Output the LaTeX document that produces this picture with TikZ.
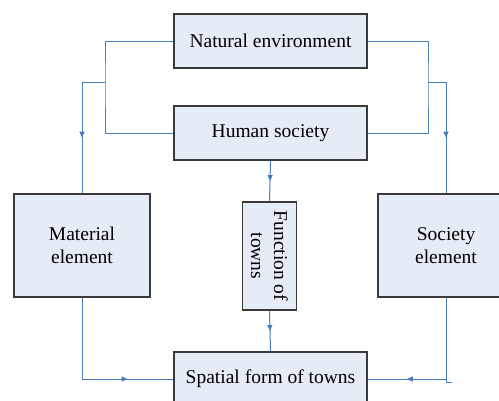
\documentclass[tikz,border=0pt]{standalone}
\usepackage{fontspec}
\setmainfont{Liberation Serif}
\usetikzlibrary{arrows.meta,decorations.markings}
\definecolor{lineblue}{HTML}{4A7EBB}
\definecolor{boxfill}{HTML}{E6ECF6}
\definecolor{boxdraw}{HTML}{3A3A3A}
\begin{document}
\begin{tikzpicture}[x=1pt,y=-1pt,
  box/.style={draw=boxdraw,line width=1.2pt,fill=boxfill,inner sep=0pt,align=center,
    font=\fontsize{19.5}{23}\selectfont},
  widebox/.style={box,minimum width=193pt,minimum height=54pt},
  sidebox/.style={box,minimum width=136pt,minimum height=103pt},
  conn/.style={color=lineblue,line width=1pt},
  midarrow/.style={conn,postaction={decorate},
    decoration={markings,mark=at position 0.5 with {\arrow{Triangle[length=6pt,width=5pt]}}}}]
\useasboundingbox (0,0) rectangle (499,400);
\clip (0,0) rectangle (499,400);

\node[widebox] (nat) at (270.5,41) {Natural environment};
\node[widebox] (hum) at (270.5,133) {Human society};
\node[sidebox] (mat) at (82,245.5) {Material\\element};
\node[sidebox] (soc) at (446,245.5) {Society\\element};
\node[box,minimum width=108pt,minimum height=54pt,rotate=-90] (fun) at (269.5,256) {Function of\\towns};
\node[widebox] (spa) at (270.5,379) {Spatial form of towns};

% left bracket
\coordinate (lb) at (105,82);
\coordinate (lc) at (82,82);
\draw[conn] (nat.west) -| (lb) |- (hum.west);
\draw[conn] (lb) -- (lc);
\draw[midarrow] (lc) -- (mat.north);

% right bracket
\coordinate (rb) at (428,82);
\coordinate (rc) at (446,82);
\draw[conn] (nat.east) -| (rb) |- (hum.east);
\draw[conn] (rb) -- (rc);
\draw[midarrow] (rc) -- (soc.north);

% centre
\draw[midarrow] (hum.south) -- (fun.west);
\draw[midarrow] (fun.east) -- (spa.north);

% bottom left
\coordinate (ml) at (82,379);
\draw[conn] (mat.south) -- (ml);
\draw[midarrow] (ml) -- (spa.west);

% bottom right
\coordinate (sr) at (446,379);
\coordinate (st) at (446,382);
\coordinate (st2) at (452,382);
\draw[conn] (soc.south) -- (st) -- (st2);
\draw[midarrow] (sr) -- (spa.east);
\end{tikzpicture}
\end{document}
